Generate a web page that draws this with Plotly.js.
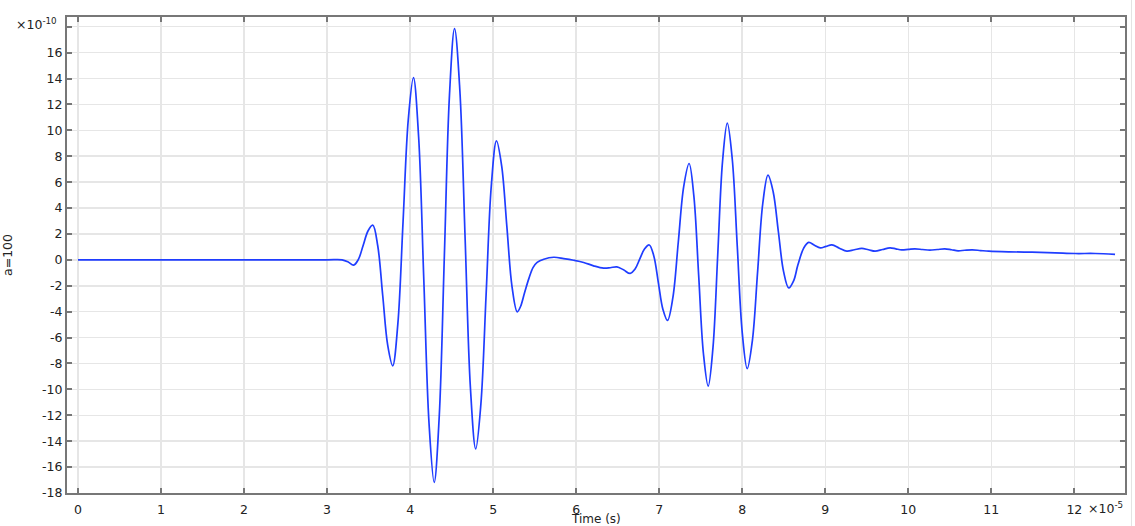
<!DOCTYPE html>
<html>
<head>
<meta charset="utf-8">
<script src="https://cdn.plot.ly/plotly-3.0.1.min.js"></script>
<style>
html,body{margin:0;padding:0;background:#fff;}
#chart{width:1135px;height:526px;}
</style>
</head>
<body>
<div id="chart"></div>
<script>
// Time in units of 1e-5 s, signal in units of 1e-10
const timeVals = [
  0, 1.0, 2.0, 3.0, 3.18, 3.25, 3.32, 3.3775, 3.435, 3.4925, 3.55,
  3.61, 3.67, 3.73, 3.79,
  3.8525, 3.915, 3.9775, 4.04,
  4.1025, 4.165, 4.2275, 4.29,
  4.351, 4.4125, 4.474, 4.535,
  4.599, 4.6625, 4.726, 4.79,
  4.8525, 4.915, 4.9775, 5.04,
  5.1025, 5.165, 5.2275, 5.29,
  5.33, 5.38, 5.43, 5.48, 5.53,
  5.61, 5.73, 5.85, 5.97, 6.09, 6.21, 6.33, 6.41, 6.49, 6.57, 6.65,
  6.7075, 6.765, 6.8225, 6.88,
  6.935, 6.99, 7.045, 7.10,
  7.165, 7.23, 7.295, 7.36,
  7.4175, 7.475, 7.5325, 7.59,
  7.6475, 7.705, 7.7625, 7.82,
  7.88, 7.94, 8.00, 8.06,
  8.1225, 8.185, 8.2475, 8.31,
  8.3725, 8.435, 8.4975, 8.56,
  8.62, 8.67, 8.74, 8.80,
  8.87, 8.94, 9.01, 9.08, 9.17, 9.26, 9.35, 9.44, 9.52, 9.60, 9.69, 9.78,
  9.85, 9.92, 10.0, 10.08, 10.17, 10.26, 10.35, 10.44, 10.52, 10.60,
  10.68, 10.77, 10.87, 10.97, 11.21, 11.49, 11.77, 12.01, 12.25, 12.49
];
const signalVals = [
  0, 0, 0, 0, 0, -0.15, -0.41, 0.04, 1.13, 2.23, 2.68,
  1.09, -2.75, -6.59, -8.18,
  -4.92, 2.95, 10.81, 14.07,
  9.49, -1.56, -12.6, -17.18,
  -12.05, 0.34, 12.72, 17.85,
  13.1, 1.63, -9.85, -14.6,
  -11.12, -2.71, 5.7, 9.18,
  7.25, 2.59, -2.08, -4.01,
  -3.6, -2.5, -1.45, -0.6, -0.2,
  0.05, 0.2, 0.1, -0.03, -0.2, -0.46, -0.64, -0.61, -0.54, -0.77, -1.05,
  -0.73, 0.05, 0.83, 1.15,
  0.3, -1.77, -3.83, -4.68,
  -2.9, 1.38, 5.66, 7.44,
  4.92, -1.16, -7.23, -9.75,
  -6.78, 0.4, 7.58, 10.55,
  7.77, 1.08, -5.62, -8.4,
  -6.21, -0.93, 4.35, 6.54,
  5.26, 2.19, -0.89, -2.17,
  -1.6, -0.4, 0.9, 1.35,
  1.13, 0.92, 1.04, 1.16, 0.9, 0.67, 0.78, 0.88, 0.78, 0.67, 0.8, 0.93,
  0.85, 0.77, 0.81, 0.85, 0.8, 0.75, 0.8, 0.85, 0.78, 0.7,
  0.74, 0.77, 0.72, 0.67, 0.62, 0.59, 0.54, 0.49, 0.49, 0.42
];
const xTickVals = [0,1,2,3,4,5,6,7,8,9,10,11,12];
const xTickText = ["0","1","2","3","4","5","6","7","8","9","10","11","12"];
const yTickVals = [-18,-16,-14,-12,-10,-8,-6,-4,-2,0,2,4,6,8,10,12,14,16];
const yTickText = ["-18","-16","-14","-12","-10","-8","-6","-4","-2","0","2","4","6","8","10","12","14","16"];
const yUnlabelledTicks = [18];

const font = {family: "DejaVu Sans, sans-serif", size: 12.5, color: "#222"};
const axisCommon = {
  showline: true, linecolor: "#777", linewidth: 2, mirror: "ticks",
  ticks: "inside", ticklen: 5, tickwidth: 2, tickcolor: "#777",
  showgrid: true, gridcolor: "#e6e6e6", gridwidth: 1.5,
  zeroline: false, tickfont: font, tickmode: "array"
};

const trace = {
  x: timeVals, y: signalVals, type: "scatter", mode: "lines",
  line: {color: "#1f3dff", width: 1.7, shape: "spline", smoothing: 1},
  hoverinfo: "x+y", showlegend: false
};

const layout = {
  width: 1135, height: 526,
  margin: {l: 67, r: 10, t: 17, b: 33},
  paper_bgcolor: "#fff", plot_bgcolor: "#fff",
  font: font,
  xaxis: Object.assign({}, axisCommon, {
    range: [-0.1325, 12.61], tickvals: xTickVals, ticktext: xTickText,
    ticklabelstandoff: 4
  }),
  yaxis: Object.assign({}, axisCommon, {
    range: [-18, 18.75], tickvals: yTickVals, ticktext: yTickText,
    minor: {tickmode: "array", tickvals: yUnlabelledTicks, ticks: "inside", ticklen: 5,
            tickwidth: 2, tickcolor: "#777", showgrid: true, gridcolor: "#e6e6e6", gridwidth: 1.5},
    title: {text: "a=100", font: font, standoff: 31}
  }),
  annotations: [
    {xref: "paper", yref: "paper", x: 0.5, y: -0.0546, xanchor: "center", yanchor: "middle",
     text: "Time (s)", showarrow: false, font: {family: font.family, size: 12, color: font.color}},
    {xref: "paper", yref: "paper", x: -0.0501, y: 0.985, xanchor: "left", yanchor: "middle",
     text: "×10<sup>-10</sup>", showarrow: false, font: font},
    {xref: "paper", yref: "paper", x: 1.0, y: 0, xanchor: "right", yanchor: "top",
     text: "×10<sup>-5</sup>", showarrow: false, font: font, yshift: -5}
  ],
  shapes: [
    {type: "line", xref: "paper", yref: "paper", x0: 1.0061, x1: 1.0061, y0: -0.07, y1: 1.036,
     line: {color: "#e2e2e2", width: 1}}
  ]
};

Plotly.newPlot("chart", [trace], layout, {displayModeBar: false, staticPlot: true});
</script>
</body>
</html>
